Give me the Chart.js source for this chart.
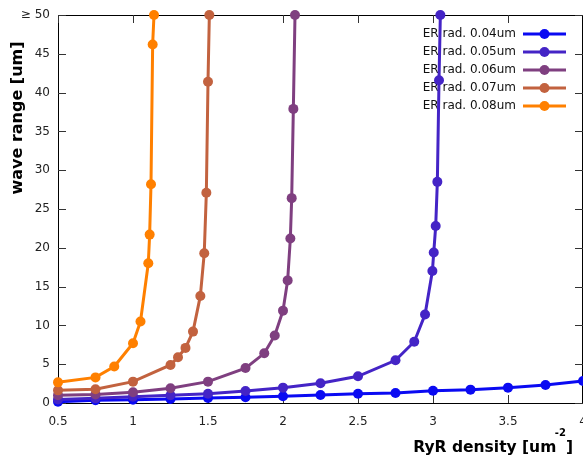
<!DOCTYPE html>
<html>
<head>
<meta charset="utf-8">
<script src="https://cdn.jsdelivr.net/npm/chart.js@4"></script>
<style>
  html, body { margin: 0; padding: 0; background: #fff; }
  #wrap { width: 583px; height: 459px; }
</style>
</head>
<body>
<div id="wrap"><canvas id="waveChart"></canvas></div>
<script>
// series labels and colours
const seriesNames = ["ER rad. 0.04um", "ER rad. 0.05um", "ER rad. 0.06um", "ER rad. 0.07um", "ER rad. 0.08um"];
const seriesColors = ["#0a0af2", "#4424c6", "#7f3f80", "#c2623f", "#ff8000"];

// RyR density (x) and wave range (y) per ER radius
const x004 = [0.5, 0.75, 1, 1.25, 1.5, 1.75, 2, 2.25, 2.5, 2.75, 3, 3.25, 3.5, 3.75, 4];
const y004 = [0.17, 0.35, 0.43, 0.52, 0.64, 0.73, 0.87, 1.03, 1.2, 1.29, 1.59, 1.72, 1.98, 2.32, 2.84];

const x005 = [0.5, 0.75, 1, 1.25, 1.5, 1.75, 2, 2.25, 2.5, 2.75, 2.875, 2.947, 2.996, 3.005, 3.018, 3.029, 3.04, 3.049];
const y005 = [0.45, 0.6, 0.82, 1.0, 1.2, 1.55, 1.98, 2.54, 3.44, 5.5, 7.9, 11.4, 17.0, 19.4, 22.8, 28.5, 41.6, 50];

const x006 = [0.5, 0.75, 1, 1.25, 1.5, 1.75, 1.875, 1.945, 2.0, 2.031, 2.049, 2.058, 2.069, 2.08];
const y006 = [1.0, 1.1, 1.38, 1.9, 2.75, 4.5, 6.4, 8.7, 11.9, 15.8, 21.2, 26.4, 37.9, 50];

const x007 = [0.5, 0.75, 1, 1.25, 1.3, 1.35, 1.4, 1.449, 1.475, 1.489, 1.5, 1.509];
const y007 = [1.63, 1.77, 2.75, 4.9, 5.9, 7.1, 9.2, 13.8, 19.3, 27.1, 41.4, 50];

const x008 = [0.5, 0.75, 0.875, 1, 1.05, 1.102, 1.111, 1.12, 1.131, 1.14];
const y008 = [2.66, 3.3, 4.7, 7.7, 10.5, 18.0, 21.7, 28.2, 46.2, 50];

const xTickLabels = ["0.5", "1", "1.5", "2", "2.5", "3", "3.5", "4"];
const yTickLabels = ["0", "5", "10", "15", "20", "25", "30", "35", "40", "45", "\u2265 50"];

const seriesX = [x004, x005, x006, x007, x008];
const seriesY = [y004, y005, y006, y007, y008];

const FONT = "'DejaVu Sans', Verdana, sans-serif";

const datasets = seriesNames.map((name, i) => ({
    label: name,
    data: seriesX[i].map((x, k) => ({ x: x, y: seriesY[i][k] })),
    showLine: true,
    borderColor: seriesColors[i],
    backgroundColor: seriesColors[i],
    borderWidth: 3,
    pointRadius: 5,
    pointHoverRadius: 5,
    pointBorderWidth: 0,
    clip: false,
    order: seriesNames.length - i, // last series on top, like gnuplot
}));

// frame, inward ticks, axis titles and key
const decorations = {
    id: "decorations",
    beforeDatasetsDraw(chart) {
        const { ctx, chartArea: a, scales } = chart;
        ctx.save();

        // frame
        ctx.strokeStyle = "#000";
        ctx.lineWidth = 1;
        ctx.strokeRect(a.left + 0.5, a.top + 0.5, a.right - a.left - 1, a.bottom - a.top);

        // inward ticks on all four sides
        ctx.strokeStyle = "#333";
        const tl = 8;
        ctx.beginPath();
        scales.x.ticks.forEach((t, i) => {
            const px = Math.round(scales.x.getPixelForTick(i)) + 0.5;
            ctx.moveTo(px, a.bottom); ctx.lineTo(px, a.bottom - tl);
            ctx.moveTo(px, a.top); ctx.lineTo(px, a.top + tl);
        });
        scales.y.ticks.forEach((t, i) => {
            const py = Math.round(scales.y.getPixelForTick(i)) + 0.5;
            ctx.moveTo(a.left, py); ctx.lineTo(a.left + tl, py);
            ctx.moveTo(a.right, py); ctx.lineTo(a.right - tl, py);
        });
        ctx.stroke();

        // key
        ctx.font = "12px " + FONT;
        ctx.textAlign = "right";
        ctx.textBaseline = "middle";
        chart.data.datasets.forEach((ds, i) => {
            const yy = a.top + 19 + 18 * i;
            ctx.fillStyle = "#111";
            ctx.fillText(ds.label, a.right - 67, yy);
            ctx.strokeStyle = ds.borderColor;
            ctx.lineWidth = 3;
            ctx.beginPath();
            ctx.moveTo(a.right - 60, yy);
            ctx.lineTo(a.right - 17, yy);
            ctx.stroke();
            ctx.fillStyle = ds.borderColor;
            ctx.beginPath();
            ctx.arc(a.right - 38.5, yy, 5, 0, Math.PI * 2);
            ctx.fill();
        });

        // y title
        ctx.fillStyle = "#000";
        ctx.font = "bold 16px " + FONT;
        ctx.save();
        ctx.translate(18, 118);
        ctx.rotate(-Math.PI / 2);
        ctx.textAlign = "center";
        ctx.textBaseline = "middle";
        ctx.fillText("wave range [um]", 0, 0);
        ctx.restore();

        // x title with superscript
        ctx.textBaseline = "alphabetic";
        ctx.textAlign = "left";
        const main = "RyR density [um";
        const sup = "-2";
        const close = "]";
        const mainFont = "bold 15.5px " + FONT;
        const supFont = "bold 10px " + FONT;
        ctx.font = mainFont;
        const wMain = ctx.measureText(main).width;
        const wClose = ctx.measureText(close).width;
        ctx.font = supFont;
        const wSup = ctx.measureText(sup).width;
        let xx = 573 - wClose - wSup - wMain + 1.5;
        ctx.font = mainFont;
        ctx.fillText(main, xx, 452);
        xx += wMain - 1.5;
        ctx.font = supFont;
        ctx.fillText(sup, xx, 436);
        xx += wSup;
        ctx.font = mainFont;
        ctx.fillText(close, xx, 452);

        ctx.restore();
    },
};

new Chart(document.getElementById("waveChart"), {
    type: "scatter",
    data: { datasets: datasets },
    options: {
        responsive: true,
        maintainAspectRatio: false,
        animation: false,
        layout: { autoPadding: false, padding: { top: 15, right: 0, bottom: 0, left: 0 } },
        plugins: {
            legend: { display: false },
            tooltip: { enabled: false },
        },
        scales: {
            x: {
                type: "linear",
                min: 0.5,
                max: 4,
                grid: { display: false, drawTicks: false },
                border: { display: false },
                ticks: {
                    stepSize: 0.5,
                    padding: 12,
                    color: "#222",
                    font: { family: FONT, size: 12 },
                    maxRotation: 0,
                    autoSkip: false,
                    callback: (v, i) => xTickLabels[i],
                },
                afterFit(scale) {
                    scale.height = 56;
                    scale.paddingLeft = 0;
                    scale.paddingRight = 0;
                },
            },
            y: {
                min: 0,
                max: 50,
                grid: { display: false, drawTicks: false },
                border: { display: false },
                ticks: {
                    stepSize: 5,
                    padding: 8,
                    color: "#222",
                    font: { family: FONT, size: 12 },
                    callback: (v, i) => yTickLabels[i],
                },
                afterFit(scale) {
                    scale.width = 58;
                    scale.paddingTop = 0;
                    scale.paddingBottom = 0;
                },
            },
        },
    },
    plugins: [decorations],
});
</script>
</body>
</html>
